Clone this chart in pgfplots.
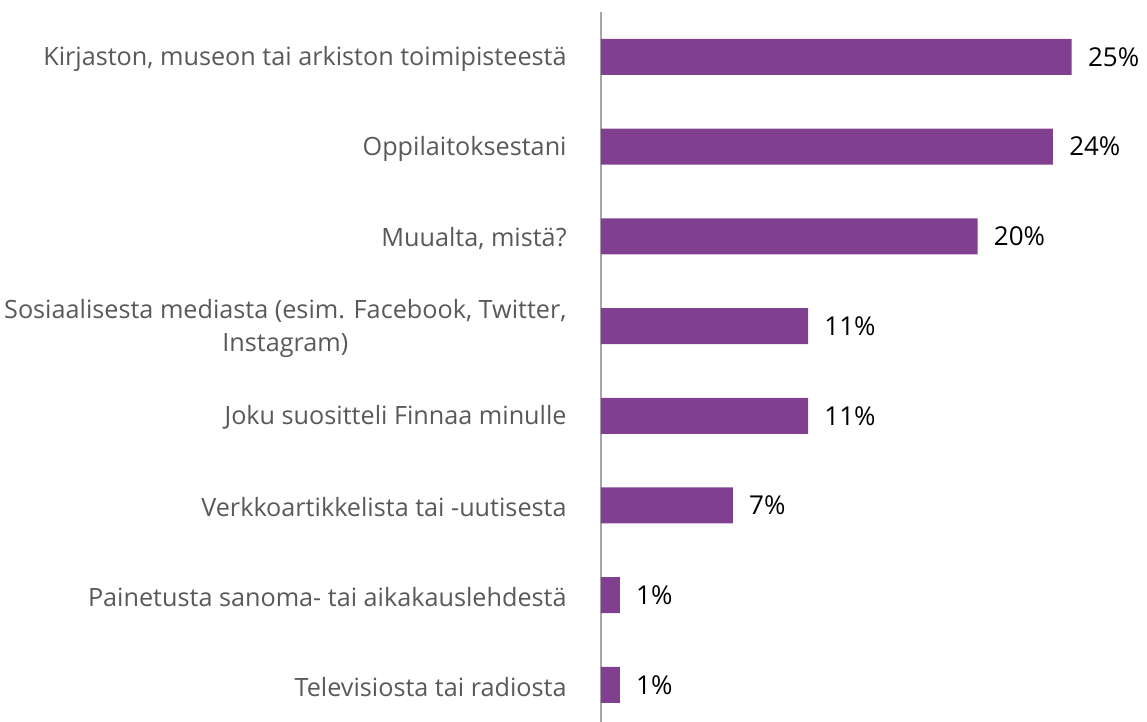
\documentclass[border=0pt]{standalone}
\usepackage{fontspec}
\setmainfont{Open Sans}
\usepackage{pgfplots}
\pgfplotsset{compat=1.18}
\definecolor{barpurple}{HTML}{80408F}
\definecolor{labgray}{HTML}{595959}
\definecolor{axgray}{HTML}{A6A6A6}
\begin{document}
\begin{tikzpicture}
\begin{axis}[
  scale only axis,
  width=273pt, height=355pt,
  xbar, bar width=18pt,
  xmin=0, xmax=29,
  ymin=-0.5, ymax=7.413,
  y dir=reverse,
  axis x line=none,
  axis y line*=left,
  axis line style={draw=axgray, line width=0.8pt},
  ytick={0,1,2,3,4,5,6,7},
  yticklabels={
    {Kirjaston, museon tai arkiston toimipisteestä},
    {Oppilaitoksestani},
    {Muualta, mistä?},
    {Sosiaalisesta mediasta (esim. Facebook, Twitter,\\Instagram)},
    {Joku suositteli Finnaa minulle},
    {Verkkoartikkelista tai -uutisesta},
    {Painetusta sanoma- tai aikakauslehdestä},
    {Televisiosta tai radiosta}},
  major tick length=0pt,
  yticklabel style={align=center, font=\fontsize{12.6pt}{16.5pt}\selectfont, text=labgray, inner sep=0pt, xshift=-17pt, yshift=-1pt},
  nodes near coords={\pgfmathprintnumber[assume math mode=true]{\pgfplotspointmeta}\%},
  nodes near coords style={font=\fontsize{13pt}{15pt}\selectfont, text=black, anchor=west, inner sep=0pt, xshift=8pt},
]
\addplot[fill=barpurple, draw=none] coordinates {
  (25,0) (24,1) (20,2) (11,3) (11,4) (7,5) (1,6) (1,7)
};
\end{axis}
\pgfresetboundingbox
\useasboundingbox (-300.5pt,0pt) rectangle (273pt,361pt);
\end{tikzpicture}
\end{document}
